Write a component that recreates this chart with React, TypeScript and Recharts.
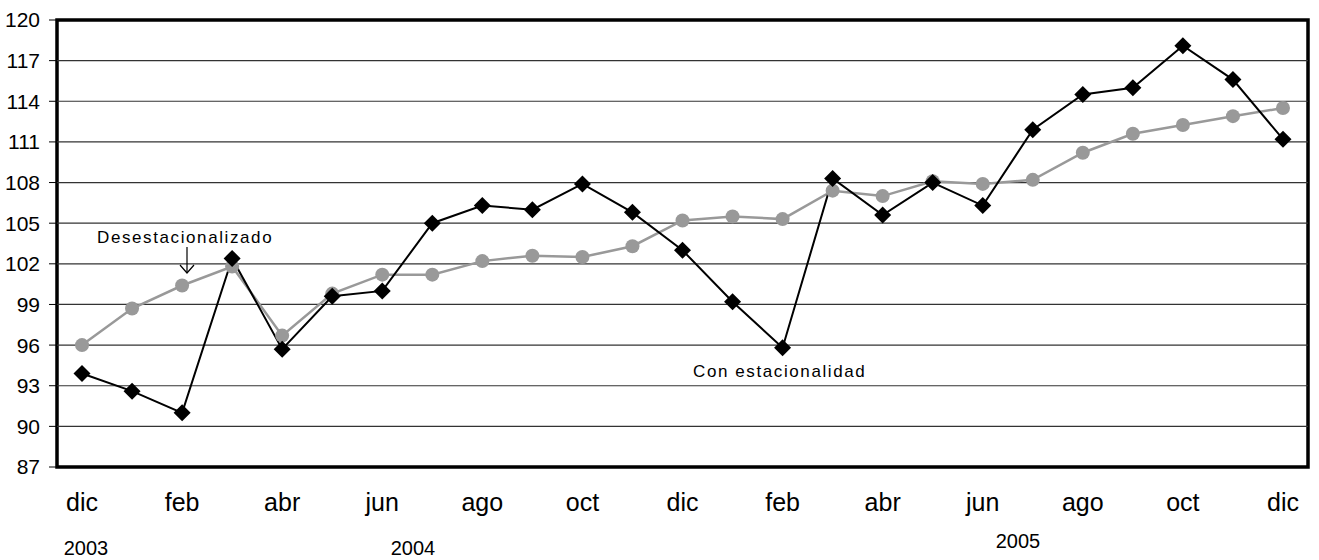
import { LineChart, Line, XAxis, YAxis, ReferenceLine, ReferenceArea } from "recharts";

const months = [
    "dic", "ene", "feb", "mar", "abr", "may", "jun", "jul", "ago", "sep", "oct", "nov",
    "dic", "ene", "feb", "mar", "abr", "may", "jun", "jul", "ago", "sep", "oct", "nov", "dic",
];
const conEstacionalidad = [
    93.9, 92.6, 91.0, 102.4, 95.7, 99.6, 100.0, 105.0, 106.3, 106.0, 107.9, 105.8,
    103.0, 99.2, 95.8, 108.3, 105.6, 108.0, 106.3, 111.9, 114.5, 115.0, 118.1, 115.6, 111.2,
];
const desestacionalizado = [
    96.0, 98.7, 100.4, 101.8, 96.7, 99.8, 101.2, 101.2, 102.2, 102.6, 102.5, 103.3,
    105.2, 105.5, 105.3, 107.4, 107.0, 108.1, 107.9, 108.2, 110.2, 111.6, 112.25, 112.9, 113.5,
];
const yTicks = [87, 90, 93, 96, 99, 102, 105, 108, 111, 114, 117, 120];
const labelTicks = [0, 2, 4, 6, 8, 10, 12, 14, 16, 18, 20, 22, 24];
const boundaryTicks = Array.from({ length: 26 }, (_, k) => k - 0.5);

const data = months.map((m, i) => ({
    i,
    mes: m,
    con: conEstacionalidad[i],
    des: desestacionalizado[i],
}));

const font = "'Liberation Sans', Arial, sans-serif";

const Diamond = (props: any) => {
    const { cx, cy } = props;
    if (cx == null || cy == null) return null;
    const r = 8.5;
    return (
        <polygon
            points={`${cx},${cy - r} ${cx + r},${cy} ${cx},${cy + r} ${cx - r},${cy}`}
            fill="#000"
        />
    );
};

const App = () => {
    return (
        <div style={{ position: "absolute", left: 0, top: 0, width: 1319, height: 560 }}>
            <LineChart
                width={1319}
                height={560}
                data={data}
                margin={{ top: 20, right: 11, left: 7, bottom: 30 }}
                style={{ fontFamily: font }}
            >
                <XAxis
                    xAxisId="marks"
                    dataKey="i"
                    type="number"
                    domain={[-0.5, 24.5]}
                    ticks={boundaryTicks}
                    tick={false}
                    tickSize={10}
                    axisLine={false}
                    tickLine={{ stroke: "#000" }}
                    height={10}
                />
                <XAxis
                    dataKey="i"
                    type="number"
                    domain={[-0.5, 24.5]}
                    ticks={labelTicks}
                    tickFormatter={(v: number) => months[v]}
                    tickLine={false}
                    axisLine={false}
                    tickSize={0}
                    tickMargin={26}
                    height={53}
                    tick={{ fill: "#000", fontSize: 25 }}
                />
                <YAxis
                    domain={[87, 120]}
                    ticks={yTicks}
                    width={50}
                    tickSize={8}
                    tickMargin={9}
                    axisLine={false}
                    tickLine={{ stroke: "#000" }}
                    tick={{ fill: "#000", fontSize: 21 }}
                    interval={0}
                />
                {yTicks.slice(1, -1).map((t) => (
                    <ReferenceLine key={t} y={t} stroke="#333" strokeWidth={1.2} />
                ))}
                <ReferenceArea
                    x1={-0.5}
                    x2={24.5}
                    y1={87}
                    y2={120}
                    fill="none"
                    stroke="#000"
                    strokeWidth={3.5}
                />
                <Line
                    dataKey="des"
                    stroke="#999999"
                    strokeWidth={2.5}
                    dot={{ r: 7, fill: "#999999", stroke: "none" }}
                    isAnimationActive={false}
                />
                <Line
                    dataKey="con"
                    stroke="#000"
                    strokeWidth={2}
                    dot={<Diamond />}
                    isAnimationActive={false}
                />
            </LineChart>
            <svg
                width={1319}
                height={560}
                style={{ position: "absolute", left: 0, top: 0, pointerEvents: "none", fontFamily: font }}
            >
                <text x={97} y={243} fontSize={17} letterSpacing={1.6} fill="#000">
                    Desestacionalizado
                </text>
                <line x1={187} y1={247} x2={187} y2={273} stroke="#000" strokeWidth={1.2} />
                <polyline points="180,265 187,273 194,265" fill="none" stroke="#000" strokeWidth={1.2} />
                <text x={693} y={377} fontSize={17} letterSpacing={1.6} fill="#000">
                    Con estacionalidad
                </text>
                <text x={86} y={555} fontSize={20} textAnchor="middle" fill="#000">2003</text>
                <text x={413} y={555} fontSize={20} textAnchor="middle" fill="#000">2004</text>
                <text x={1018} y={548} fontSize={20} textAnchor="middle" fill="#000">2005</text>
            </svg>
        </div>
    );
};

export default App;
